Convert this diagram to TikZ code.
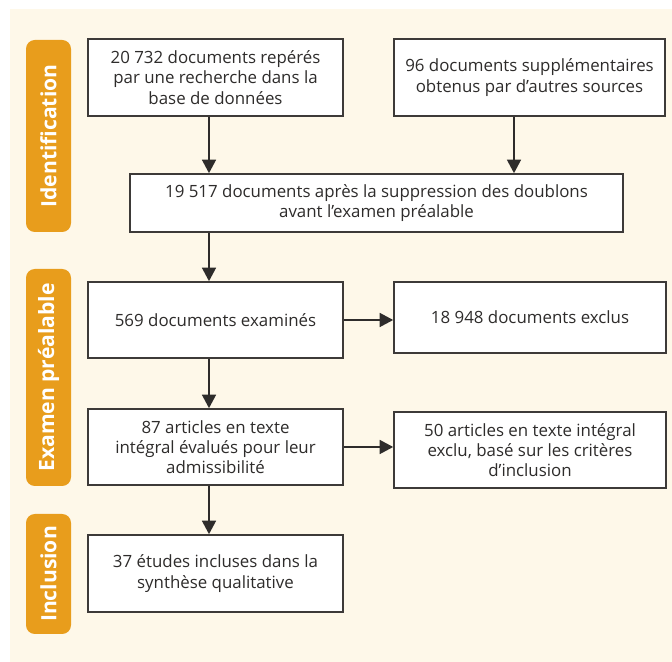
\documentclass[tikz,border=0pt]{standalone}
\usepackage{fontspec}
\setmainfont{Open Sans}
\usetikzlibrary{arrows.meta}

\definecolor{creme}{HTML}{FEF8E9}
\definecolor{orangebar}{HTML}{E89D1C}
\definecolor{randgrau}{HTML}{3D3A38}
\definecolor{textgrau}{HTML}{2E2C2B}

\tikzset{
    kasten/.style={draw=randgrau, fill=white, line width=1pt, align=center,
        text=textgrau, font=\fontsize{12}{14.4}\selectfont, inner sep=0pt},
    phase/.style={fill=orangebar, rounded corners=0.22cm, rotate=90, text=white,
        font=\fontsize{15}{16}\selectfont\bfseries, inner sep=0pt},
    pfeil/.style={-{Triangle[length=0.34cm,width=0.34cm]}, line width=1.9pt, draw=textgrau}
}

\begin{document}
\begin{tikzpicture}
        % Hintergrund
        \useasboundingbox (0,0) rectangle (16.8,16.55);
        \fill[white] (0,0) rectangle (16.8,16.55);
        \fill[creme] (0.25,0) rectangle (16.8,16.325);

        % Phasen links
        \node[phase, minimum width=4.8cm, minimum height=1.125cm] (ident) at (1.2125,13.15) {Identification};
        \node[phase, minimum width=5.425cm, minimum height=1.125cm] (examen) at (1.2125,7.1125) {Examen préalable};
        \node[phase, minimum width=3cm, minimum height=1.125cm] (inclu) at (1.2125,2.2) {Inclusion};

        % Kästen
        \node[kasten, minimum width=6.375cm, minimum height=1.925cm] (repere) at (5.3875,14.6125)
            {20 732 documents repérés\\par une recherche dans la\\base de données};
        \node[kasten, minimum width=6.775cm, minimum height=1.925cm] (autres) at (13.2375,14.6125)
            {96 documents supplémentaires\\obtenus par d’autres sources};
        \node[kasten, minimum width=12.325cm, minimum height=1.45cm] (doublons) at (9.4125,11.475)
            {19 517 documents après la suppression des doublons\\avant l’examen préalable};
        \node[kasten, minimum width=6.375cm, minimum height=1.9cm] (examines) at (5.3875,8.55)
            {569 documents examinés};
        \node[kasten, minimum width=6.8cm, minimum height=1.775cm] (exclus) at (13.25,8.6125)
            {18 948 documents exclus};
        \node[kasten, minimum width=6.375cm, minimum height=1.9cm] (evalues) at (5.3875,5.375)
            {87 articles en texte\\intégral évalués pour leur\\admissibilité};
        \node[kasten, minimum width=6.8cm, minimum height=1.9cm] (criteres) at (13.25,5.3)
            {50 articles en texte intégral\\exclu, basé sur les critères\\d’inclusion};
        \node[kasten, minimum width=6.375cm, minimum height=1.925cm] (synthese) at (5.3875,2.2125)
            {37 études incluses dans la\\synthèse qualitative};

        % Pfeile
        \coordinate (achse) at (5.225,0);
        \coordinate (achse2) at (12.85,0);
        \draw[pfeil] (repere.south -| achse) -- (doublons.north -| achse);
        \draw[pfeil] (autres.south -| achse2) -- (doublons.north -| achse2);
        \draw[pfeil] (doublons.south -| achse) -- (examines.north -| achse);
        \draw[pfeil] (examines.south -| achse) -- (evalues.north -| achse);
        \draw[pfeil] (evalues.south -| achse) -- (synthese.north -| achse);
        \draw[pfeil] (examines.east) -- (exclus.west |- examines.east);
        \draw[pfeil] (evalues.east) -- (criteres.west |- evalues.east);
    \end{tikzpicture}
\end{document}
